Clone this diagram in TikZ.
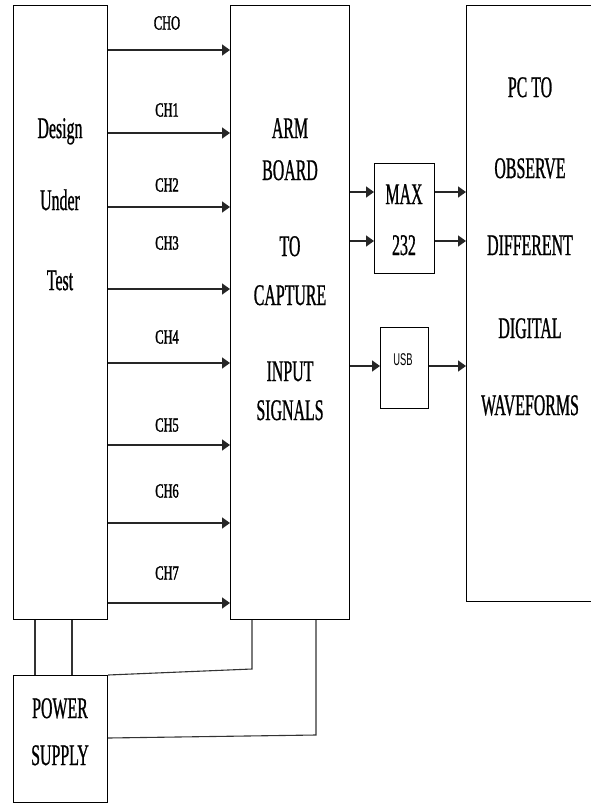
\documentclass[tikz,border=0pt]{standalone}
\usepackage{fontspec}
\setmainfont{Liberation Serif}
\newfontfamily\narrowserif[FakeStretch=0.53,FakeBold=0.8]{Liberation Serif}
\newfontfamily\chserif[FakeStretch=0.62,FakeBold=1.6]{Liberation Serif}
\newfontfamily\narrowsans[FakeStretch=0.55]{Liberation Sans}
\usetikzlibrary{arrows.meta,positioning}

\begin{document}
\begin{tikzpicture}[
  x=1pt, y=-1pt,
  blockbox/.style={
    draw=black,
    fill=white,
    line width=1.2pt,
    inner sep=0pt,
    anchor=north west
  },
  bigtxt/.style={
    font=\narrowserif\fontsize{30}{40}\selectfont,
    align=center,
    inner sep=0pt,
    anchor=north
  },
  chtxt/.style={
    font=\chserif\fontsize{20}{24}\selectfont,
    inner sep=0pt
  },
  usbtxt/.style={
    font=\narrowsans\fontsize{17}{20}\selectfont,
    inner sep=0pt
  },
  sig/.style={
    -{Triangle[length=8pt,width=11pt]},
    line width=1.6pt,
    draw=black!85
  },
  pwr/.style={
    line width=1.1pt,
    draw=black!80
  }
]
  \useasboundingbox (0,0) rectangle (591,804);

  % ----------------------------------------------------
  % BLOCKS
  % ----------------------------------------------------
  \node[blockbox, minimum width=94pt, minimum height=614pt] (dut) at (13,5) {};
  \node[blockbox, minimum width=119pt, minimum height=614pt] (arm) at (230,5) {};
  \node[blockbox, minimum width=60pt, minimum height=110pt] (max) at (374,163) {};
  \node[blockbox, minimum width=48pt, minimum height=81pt] (usb) at (380,327) {};
  \node[blockbox, minimum width=132pt, minimum height=596pt] (pc) at (466,5) {};
  \node[blockbox, minimum width=94pt, minimum height=127pt] (psu) at (13,675) {};

  % block texts
  \node[bigtxt] (dut_txt) at (60,118) {Design\\[32pt]Under\\[40pt]Test};
  \node[bigtxt] (arm_txt) at (290,118) {ARM\\[2pt]BOARD\\[36pt]TO\\[9pt]CAPTURE\\[36pt]INPUT\\[-1pt]SIGNALS};
  \node[bigtxt] (max_txt) at (404,184) {MAX\\[11pt]232};
  \node[usbtxt] (usb_txt) at (403,360) {USB};
  \node[bigtxt] (pc_txt) at (530,77) {PC TO\\[41pt]OBSERVE\\[37pt]DIFFERENT\\[43pt]DIGITAL\\[37pt]WAVEFORMS};
  \node[bigtxt] (psu_txt) at (60,698) {POWER\\[7pt]SUPPLY};

  % ----------------------------------------------------
  % CHANNELS
  % ----------------------------------------------------
  \node[chtxt] (ch0) at (167,23) {CHO};
  \node[chtxt] (ch1) at (167,110) {CH1};
  \node[chtxt] (ch2) at (167,185) {CH2};
  \node[chtxt] (ch3) at (167,243) {CH3};
  \node[chtxt] (ch4) at (167,337) {CH4};
  \node[chtxt] (ch5) at (167,425) {CH5};
  \node[chtxt] (ch6) at (167,491) {CH6};
  \node[chtxt] (ch7) at (167,573) {CH7};

  \draw[sig] (dut.east |- 0,50) -- (arm.west |- 0,50);
  \draw[sig] (dut.east |- 0,133) -- (arm.west |- 0,133);
  \draw[sig] (dut.east |- 0,207) -- (arm.west |- 0,207);
  \draw[sig] (dut.east |- 0,289) -- (arm.west |- 0,289);
  \draw[sig] (dut.east |- 0,363) -- (arm.west |- 0,363);
  \draw[sig] (dut.east |- 0,445) -- (arm.west |- 0,445);
  \draw[sig] (dut.east |- 0,523) -- (arm.west |- 0,523);
  \draw[sig] (dut.east |- 0,603) -- (arm.west |- 0,603);

  % ARM -> MAX232 / USB -> PC
  \draw[sig] (arm.east |- 0,192) -- (max.west |- 0,192);
  \draw[sig] (arm.east |- 0,241) -- (max.west |- 0,241);
  \draw[sig] (max.east |- 0,192) -- (pc.west |- 0,192);
  \draw[sig] (max.east |- 0,241) -- (pc.west |- 0,241);
  \draw[sig] (arm.east |- 0,366) -- (usb.west |- 0,366);
  \draw[sig] (usb.east |- 0,366) -- (pc.west |- 0,366);

  % Power supply wiring
  \draw[pwr] (dut.south -| 35,0) -- (psu.north -| 35,0);
  \draw[pwr] (dut.south -| 72,0) -- (psu.north -| 72,0);
  \draw[pwr] (psu.north east) -- (252,669) -- (arm.south -| 252,0);
  \draw[pwr] (psu.east |- 0,738) -- (316,735) -- (arm.south -| 316,0);

\end{tikzpicture}
\end{document}
